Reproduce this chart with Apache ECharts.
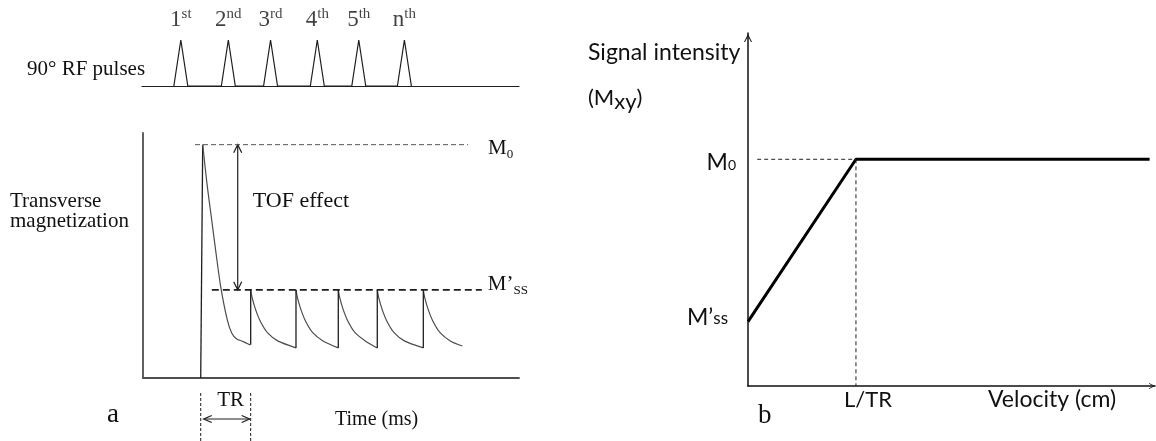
<!DOCTYPE html>
<html>
<head>
<meta charset="utf-8">
<script src="https://cdn.jsdelivr.net/npm/echarts@6/dist/echarts.min.js"></script>
<style>
  html, body { margin: 0; padding: 0; background: #fff; }
  #chart { width: 1156px; height: 441px; }
</style>
</head>
<body>
<div id="chart"></div>
<script>
// ---------- Panel a, top: train of 90° RF pulses ----------
const pulseLabels = ['1', '2', '3', '4', '5', 'n'];
const pulseSuffixes = ['st', 'nd', 'rd', 'th', 'th', 'th'];
const rfPeakTimes = [10.3, 22.9, 34.1, 46.5, 57.5, 69.6];

// ---------- Panel a, bottom: transverse magnetization vs time ----------
const M0 = 1.0;
const Mss = 0.378;
const firstRise = [[15.35, 0], [15.88, 1.0]];
const decays = [
  [[15.88, 1.000], [17.10, 0.821], [18.27, 0.678], [19.41, 0.536], [20.66, 0.392],
   [22.42, 0.249], [23.59, 0.193], [24.92, 0.167], [26.68, 0.156], [28.46, 0.142]],
  [[28.64, 0.378], [29.04, 0.343], [29.97, 0.292], [31.30, 0.240], [33.16, 0.193], [35.82, 0.159], [40.69, 0.129]],
  [[40.69, 0.378], [41.09, 0.343], [42.02, 0.292], [43.35, 0.240], [45.21, 0.193], [47.87, 0.159], [51.94, 0.129]],
  [[51.94, 0.378], [52.34, 0.343], [53.27, 0.292], [54.60, 0.240], [56.46, 0.193], [59.12, 0.159], [62.31, 0.129]],
  [[62.31, 0.378], [62.71, 0.343], [63.64, 0.292], [64.97, 0.240], [66.84, 0.193], [69.49, 0.159], [74.55, 0.129]],
  [[74.55, 0.378], [74.95, 0.343], [75.88, 0.292], [77.21, 0.240], [79.07, 0.193], [81.73, 0.159], [84.92, 0.137]]
];
const m0GuideSpan = [13.83, 86.44];
const mssGuideSpan = [18.3, 90.1];
const tofArrowTime = 25.19;
const trSpan = [15.35, 28.64];

// ---------- Panel b: signal intensity vs velocity ----------
const M0b = 1.0;
const MssB = 0.284;
const criticalVelocity = 1;          // L/TR
const signalCurve = [[0, MssB], [criticalVelocity, M0b], [3.72, M0b]];

// ---------- styling ----------
const SERIF = '"Liberation Serif", "Times New Roman", serif';
const SANS = 'Lato, "Noto Sans", sans-serif';
const INK = '#1e1e1e';
const CURVE = '#4d4d4d';
const AXIS_A = '#505050';
const CHEVRON = 'path://M0,10 L5,0 L10,10 L8.7,10 L5,2.7 L1.3,10 Z';

function openHead(tip, dir, len, half, color) {
  const bx = tip[0] - dir[0] * len, by = tip[1] - dir[1] * len;
  const nx = -dir[1], ny = dir[0];
  return {
    type: 'polyline',
    shape: { points: [[bx + nx * half, by + ny * half], [tip[0], tip[1]], [bx - nx * half, by - ny * half]] },
    style: { stroke: color, lineWidth: 1.2, fill: null }
  };
}

function textEl(text, x, y, font, extra) {
  return {
    type: 'text', x: x, y: y,
    style: Object.assign({
      text: text, font: font, fill: '#111',
      align: 'left', verticalAlign: 'middle',
      textAlign: 'left', textVerticalAlign: 'middle'
    }, extra || {})
  };
}

// RF pulse train polyline, triangles on the baseline
const pulseHalfWidth = 1.85;
const rfTrain = [];
rfPeakTimes.forEach(function (t) {
  rfTrain.push([t - pulseHalfWidth, 0], [t, 1], [t + pulseHalfWidth, 0]);
});

// recovery jumps back up to the steady-state level at every new pulse
const recoveries = [];
for (let i = 1; i < decays.length; i++) {
  const prev = decays[i - 1][decays[i - 1].length - 1];
  recoveries.push([[decays[i][0][0], prev[1]], decays[i][0]]);
}

const series = [];

series.push({
  type: 'line', xAxisIndex: 0, yAxisIndex: 0, data: rfTrain,
  showSymbol: false, lineStyle: { color: INK, width: 1.2 }, silent: true
});
series.push({
  type: 'scatter', xAxisIndex: 0, yAxisIndex: 0, symbolSize: 0, silent: true,
  data: rfPeakTimes.map(function (t, i) {
    return { value: [t, 1], label: { formatter: '{d|' + pulseLabels[i] + '}{s|' + pulseSuffixes[i] + '}' } };
  }),
  label: {
    show: true, position: 'top', distance: 7,
    rich: {
      d: { fontFamily: SERIF, fontSize: 23, lineHeight: 26, color: '#111', verticalAlign: 'middle' },
      s: { fontFamily: SERIF, fontSize: 15, lineHeight: 15, color: '#111', verticalAlign: 'top' }
    }
  }
});

series.push({
  type: 'line', xAxisIndex: 1, yAxisIndex: 1, data: firstRise,
  showSymbol: false, lineStyle: { color: INK, width: 1.3 }, silent: true
});
decays.forEach(function (d) {
  series.push({
    type: 'line', xAxisIndex: 1, yAxisIndex: 1, data: d, smooth: 0.25,
    showSymbol: false, lineStyle: { color: CURVE, width: 1.2 }, silent: true
  });
});
recoveries.forEach(function (r) {
  series.push({
    type: 'line', xAxisIndex: 1, yAxisIndex: 1, data: r,
    showSymbol: false, lineStyle: { color: INK, width: 1.3 }, silent: true
  });
});

series.push({
  type: 'line', xAxisIndex: 1, yAxisIndex: 1,
  data: [[m0GuideSpan[0], M0], [m0GuideSpan[1], M0]],
  showSymbol: false, silent: true,
  lineStyle: { color: '#555', width: 1, type: [5, 3] },
  endLabel: {
    show: true, distance: 20, offset: [0, 4], formatter: '{m|M}{z|0}',
    rich: {
      m: { fontFamily: SERIF, fontSize: 21, lineHeight: 24, color: '#111', verticalAlign: 'middle' },
      z: { fontFamily: SERIF, fontSize: 13, lineHeight: 14, color: '#111', verticalAlign: 'bottom' }
    }
  }
});
series.push({
  type: 'line', xAxisIndex: 1, yAxisIndex: 1,
  data: [[mssGuideSpan[0], Mss], [mssGuideSpan[1], Mss]],
  showSymbol: false, silent: true,
  lineStyle: { color: INK, width: 1.7, type: [7, 4] },
  endLabel: {
    show: true, distance: 6, offset: [0, -5], formatter: '{m|M\u2019}{c|SS}',
    rich: {
      m: { fontFamily: SERIF, fontSize: 21, lineHeight: 24, color: '#111', verticalAlign: 'middle' },
      c: { fontFamily: SERIF, fontSize: 13, lineHeight: 17, color: '#111', verticalAlign: 'bottom' }
    }
  }
});

// TOF effect double arrow between M0 and the steady state
series.push({
  type: 'custom', xAxisIndex: 1, yAxisIndex: 1, clip: false, silent: true,
  data: [[tofArrowTime, M0, Mss]],
  renderItem: function (params, api) {
    const top = api.coord([api.value(0), api.value(1)]);
    const bot = api.coord([api.value(0), api.value(2)]);
    return {
      type: 'group',
      children: [
        { type: 'line', shape: { x1: top[0], y1: top[1], x2: bot[0], y2: bot[1] }, style: { stroke: INK, lineWidth: 1.2 } },
        openHead(top, [0, -1], 8, 4, INK),
        openHead(bot, [0, 1], 8, 4, INK),
        textEl('TOF effect', top[0] + 15, (top[1] + bot[1]) / 2 - 16, '22px ' + SERIF)
      ]
    };
  }
});

// TR interval marker under the time axis
series.push({
  type: 'custom', xAxisIndex: 1, yAxisIndex: 1, clip: false, silent: true,
  data: [[trSpan[0], trSpan[1]]],
  renderItem: function (params, api) {
    const a = api.coord([api.value(0), 0]);
    const b = api.coord([api.value(1), 0]);
    const yA = a[1] + 41;
    return {
      type: 'group',
      children: [
        { type: 'line', shape: { x1: a[0], y1: a[1] + 15, x2: a[0], y2: a[1] + 66 }, style: { stroke: INK, lineWidth: 1, lineDash: [3, 2] } },
        { type: 'line', shape: { x1: b[0], y1: b[1] + 15, x2: b[0], y2: b[1] + 66 }, style: { stroke: INK, lineWidth: 1, lineDash: [3, 2] } },
        { type: 'line', shape: { x1: a[0] + 3, y1: yA, x2: b[0] - 1, y2: yA }, style: { stroke: INK, lineWidth: 1.1 } },
        openHead([a[0] + 3, yA], [-1, 0], 8, 3.5, INK),
        openHead([b[0] - 1, yA], [1, 0], 8, 3.5, INK),
        textEl('TR', (a[0] + b[0]) / 2 + 5, a[1] + 22, '21px ' + SERIF, { align: 'center', textAlign: 'center' })
      ]
    };
  }
});

// Panel b: signal rises linearly up to L/TR, then saturates at M0
series.push({
  type: 'line', xAxisIndex: 2, yAxisIndex: 2, data: signalCurve,
  showSymbol: false, silent: true, lineStyle: { color: '#000', width: 3 }
});
series.push({
  type: 'line', xAxisIndex: 2, yAxisIndex: 2,
  data: [[0.085, M0b], [criticalVelocity, M0b]],
  showSymbol: false, silent: true, lineStyle: { color: '#222', width: 1, type: [4, 3] }
});
series.push({
  type: 'line', xAxisIndex: 2, yAxisIndex: 2,
  data: [[criticalVelocity, M0b], [criticalVelocity, 0]],
  showSymbol: false, silent: true, lineStyle: { color: '#222', width: 1, type: [4, 3] }
});

const hidden = { show: false };
const option = {
  animation: false,
  backgroundColor: '#fff',
  grid: [
    { left: 142, top: 40, width: 377, height: 46, outerBoundsMode: 'none' },
    { left: 143, top: 133, width: 376, height: 245, outerBoundsMode: 'none' },
    { left: 748, top: 33, width: 407, height: 353, outerBoundsMode: 'none' }
  ],
  xAxis: [
    { gridIndex: 0, type: 'value', min: 0, max: 100,
      axisLine: { show: true, onZero: false, lineStyle: { color: INK, width: 1.2 } },
      axisTick: hidden, axisLabel: hidden, splitLine: hidden },
    { gridIndex: 1, type: 'value', min: 0, max: 100,
      axisLine: { show: true, onZero: false, lineStyle: { color: AXIS_A, width: 1.8 } },
      axisTick: hidden, axisLabel: hidden, splitLine: hidden },
    { gridIndex: 2, type: 'value', min: 0, max: 3.77,
      axisLine: { show: true, onZero: false, lineStyle: { color: '#111', width: 1.5 },
        symbol: ['none', CHEVRON], symbolSize: [8, 6], symbolOffset: [0, -3] },
      axisTick: hidden, splitLine: hidden,
      axisLabel: {
        show: true, customValues: [criticalVelocity], margin: 3,
        formatter: function () { return 'L/TR'; },
        fontFamily: SANS, fontSize: 22, color: '#111', padding: [0, 0, 0, 24]
      } }
  ],
  yAxis: [
    { gridIndex: 0, type: 'value', min: 0, max: 1, show: false },
    { gridIndex: 1, type: 'value', min: 0, max: 1.05,
      axisLine: { show: true, onZero: false, lineStyle: { color: AXIS_A, width: 1.8 } },
      axisTick: hidden, axisLabel: hidden, splitLine: hidden },
    { gridIndex: 2, type: 'value', min: 0, max: 1.557,
      axisLine: { show: true, onZero: false, lineStyle: { color: '#111', width: 1.5 },
        symbol: ['none', CHEVRON], symbolSize: [8, 10], symbolOffset: [0, -5] },
      axisTick: hidden, splitLine: hidden,
      axisLabel: {
        show: true, customValues: [MssB, M0b], margin: 12,
        formatter: function (v) {
          return v > 0.5 ? '{m|M}{z|0}' : '{n|M\u2019}{s|ss}{q|}';
        },
        rich: {
          m: { fontFamily: SANS, fontSize: 23, lineHeight: 26, color: '#111', verticalAlign: 'middle', padding: [6, 0, 0, 0] },
          z: { fontFamily: SANS, fontSize: 14, lineHeight: 16, color: '#111', verticalAlign: 'bottom' },
          n: { fontFamily: SANS, fontSize: 23, lineHeight: 26, color: '#111', verticalAlign: 'middle', padding: [0, 0, 8, 0] },
          s: { fontFamily: SANS, fontSize: 17, lineHeight: 20, color: '#111', verticalAlign: 'bottom', padding: [0, 0, 8, 0] },
          q: { width: 8 }
        }
      } }
  ],
  graphic: [
    textEl('90\u00b0 RF pulses', 27, 69, '21px ' + SERIF),
    textEl('Transverse\nmagnetization', 10, 191, '21px ' + SERIF,
      { verticalAlign: 'top', textVerticalAlign: 'top', lineHeight: 20 }),
    textEl('Time (ms)', 335, 420, '20px ' + SERIF),
    textEl('a', 107, 415, '27px ' + SERIF),
    textEl('b', 758, 416, '27px ' + SERIF),
    textEl('Signal intensity', 588, 53, '23px ' + SANS),
    {
      type: 'text', x: 588, y: 100,
      style: {
        text: '{t|(M}{x|xy}{t|)}', align: 'left', verticalAlign: 'middle',
        textAlign: 'left', textVerticalAlign: 'middle',
        rich: {
          t: { fontFamily: SANS, fontSize: 22, lineHeight: 26, fill: '#111', color: '#111', verticalAlign: 'top' },
          x: { fontFamily: SANS, fontSize: 22, lineHeight: 26, fill: '#111', color: '#111', verticalAlign: 'bottom', padding: [8, 0, 0, 0] }
        }
      }
    },
    textEl('Velocity (cm)', 988, 400, '23px ' + SANS)
  ],
  series: series
};

const chart = echarts.init(document.getElementById('chart'), null, { renderer: 'canvas' });
chart.setOption(option);
</script>
</body>
</html>
